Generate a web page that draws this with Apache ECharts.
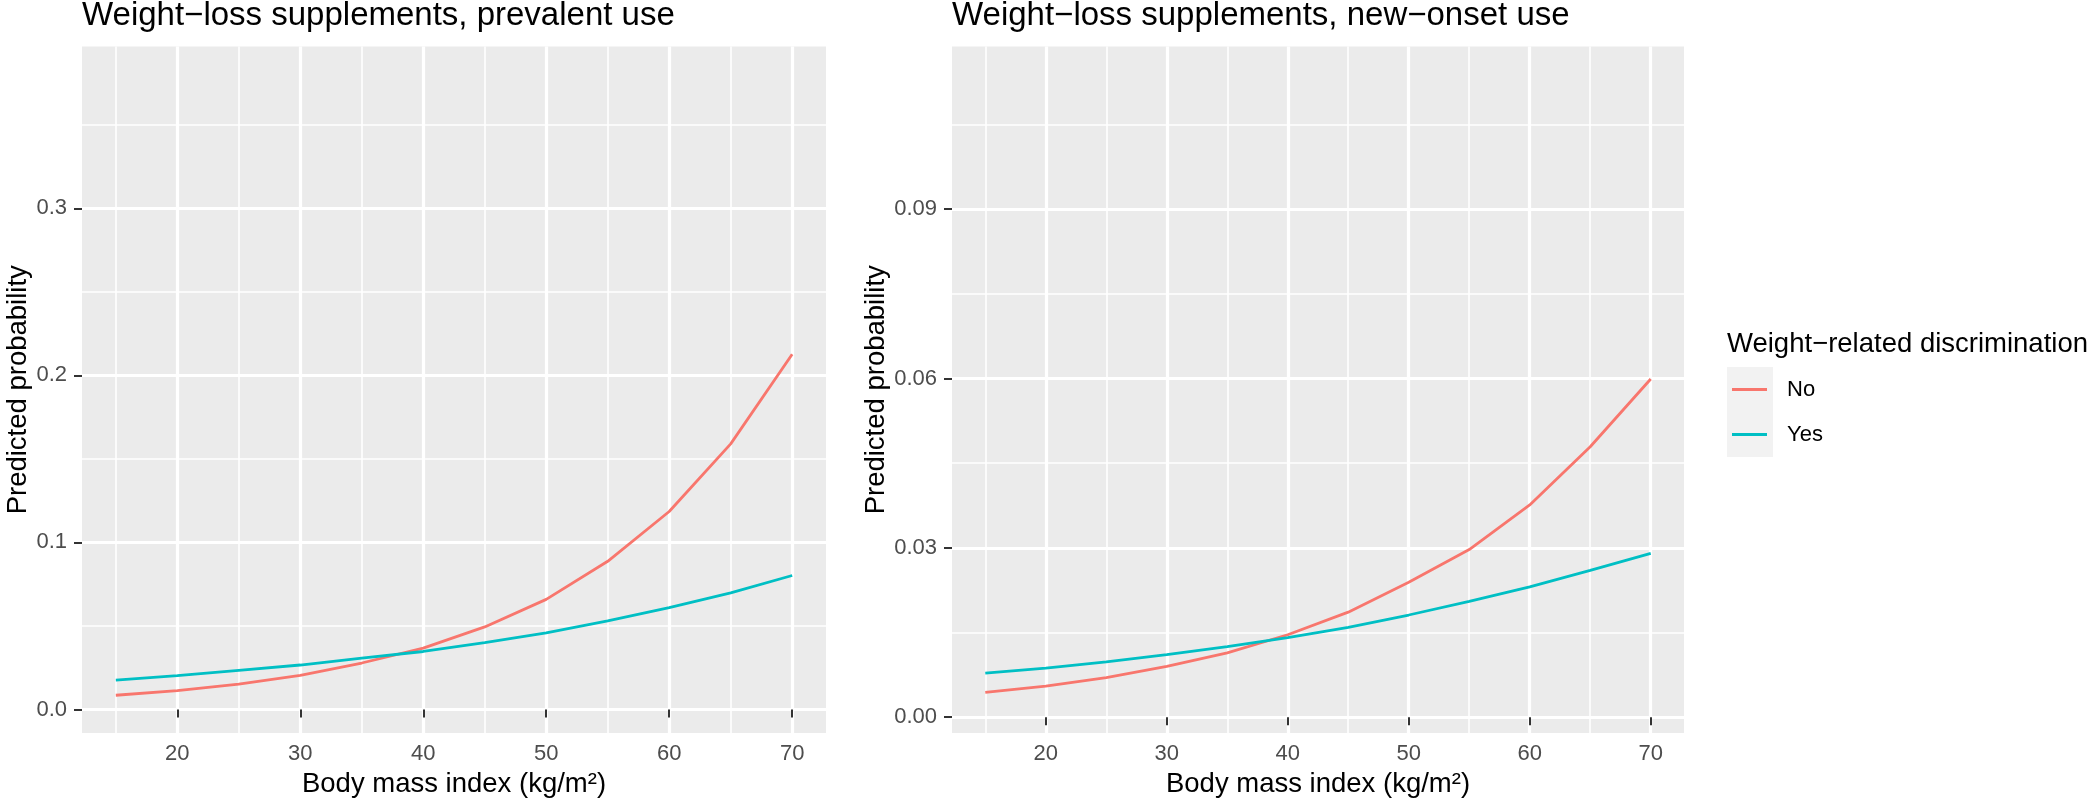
<!DOCTYPE html>
<html>
<head>
<meta charset="utf-8">
<script src="https://cdn.jsdelivr.net/npm/echarts@6/dist/echarts.min.js"></script>
<style>
  html, body { margin: 0; padding: 0; background: #fff; }
  #chart { width: 2100px; height: 803px; }
</style>
</head>
<body>
<div id="chart"></div>
<script>
// BMI grid the predictions were made on
const bmi = [15, 20, 25, 30, 35, 40, 45, 50, 55, 60, 65, 70];

// prevalent use
const prevalentNo  = [0.0085, 0.0113, 0.0151, 0.0204, 0.0278, 0.0367, 0.0494, 0.0659, 0.0887, 0.1185, 0.1590, 0.2127];
const prevalentYes = [0.0175, 0.0202, 0.0234, 0.0266, 0.0307, 0.0347, 0.0400, 0.0458, 0.0530, 0.0609, 0.0698, 0.0802];

// new-onset use
const onsetNo  = [0.0044, 0.0055, 0.0070, 0.0090, 0.0114, 0.0146, 0.0186, 0.0239, 0.0297, 0.0376, 0.0479, 0.0599];
const onsetYes = [0.0078, 0.0087, 0.0098, 0.0111, 0.0125, 0.0141, 0.0159, 0.0181, 0.0205, 0.0231, 0.0260, 0.0290];

const xMajor = [20, 30, 40, 50, 60, 70];
const xMinor = [15, 25, 35, 45, 55, 65];
const yMajorLeft = [0, 0.1, 0.2, 0.3];
const yMinorLeft = [0.05, 0.15, 0.25, 0.35];
const yMajorRight = [0, 0.03, 0.06, 0.09];
const yMinorRight = [0.015, 0.045, 0.075, 0.105];

const FONT = '"Liberation Sans", Arial, sans-serif';
const RED = '#F8766D';
const TEAL = '#00BFC4';

const pairs = (ys) => bmi.map((x, i) => [x, ys[i]]);

const chart = echarts.init(document.getElementById('chart'));

function majorX(grid, name) {
  return {
    type: 'value', gridIndex: grid, position: 'bottom',
    min: 12.25, max: 72.75,
    axisLine: { show: false },
    axisTick: { show: true, length: 8, customValues: xMajor, lineStyle: { color: '#333333', width: 2 } },
    axisLabel: { customValues: xMajor, margin: 10, color: '#4D4D4D', fontSize: 22, fontFamily: FONT },
    splitLine: { show: true, lineStyle: { color: '#ffffff', width: 3.2 } },
    name: name, nameLocation: 'middle', nameGap: 37,
    nameTextStyle: { color: '#000', fontSize: 27.5, fontFamily: FONT }
  };
}
function minorX(grid) {
  return {
    type: 'value', gridIndex: grid, position: 'top',
    min: 12.25, max: 72.75,
    axisLine: { show: false },
    axisTick: { show: false, customValues: xMinor },
    axisLabel: { show: false, customValues: xMinor },
    splitLine: { show: true, lineStyle: { color: '#ffffff', width: 1.6 } }
  };
}
function majorY(grid, min, max, ticks, digits, gap) {
  return {
    type: 'value', gridIndex: grid, position: 'left',
    min: min, max: max,
    axisLine: { show: false },
    axisTick: { show: true, length: 8, customValues: ticks, lineStyle: { color: '#333333', width: 2 } },
    axisLabel: {
      customValues: ticks, margin: 15, color: '#4D4D4D', fontSize: 22, fontFamily: FONT,
      formatter: v => v.toFixed(digits)
    },
    splitLine: { show: true, lineStyle: { color: '#ffffff', width: 3.2 } },
    name: 'Predicted probability', nameLocation: 'middle', nameRotate: 90, nameGap: gap,
    nameTextStyle: { color: '#000', fontSize: 27.5, fontFamily: FONT }
  };
}
function minorY(grid, min, max, ticks) {
  return {
    type: 'value', gridIndex: grid, position: 'right',
    min: min, max: max,
    axisLine: { show: false },
    axisTick: { show: false, customValues: ticks },
    axisLabel: { show: false, customValues: ticks },
    splitLine: { show: true, lineStyle: { color: '#ffffff', width: 1.6 } }
  };
}

function line(name, color, xi, yi, ys) {
  return {
    name: name, type: 'line', xAxisIndex: xi, yAxisIndex: yi,
    data: pairs(ys), showSymbol: false, smooth: false,
    color: color, lineStyle: { color: color, width: 2.8 },
    emphasis: { disabled: true }
  };
}

const option = {
  animation: false,
  backgroundColor: '#ffffff',
  title: [
    { text: 'Weight\u2212loss supplements, prevalent use', left: 82, top: -1, padding: 0,
      textStyle: { fontSize: 33, fontWeight: 'normal', color: '#000', fontFamily: FONT } },
    { text: 'Weight\u2212loss supplements, new\u2212onset use', left: 952, top: -1, padding: 0,
      textStyle: { fontSize: 33, fontWeight: 'normal', color: '#000', fontFamily: FONT } },
    { text: 'Weight\u2212related discrimination', left: 1727, top: 330, padding: 0,
      textStyle: { fontSize: 27.5, fontWeight: 'normal', color: '#000', fontFamily: FONT } }
  ],
  legend: {
    data: ['No', 'Yes'],
    orient: 'vertical', left: 1732, top: 367, padding: 0,
    icon: 'rect', itemWidth: 35, itemHeight: 3, itemGap: 0,
    selectedMode: false,
    textStyle: { fontSize: 22, color: '#000', fontFamily: FONT, lineHeight: 45, padding: [0, 0, 0, 15] }
  },
  graphic: [
    { type: 'rect', left: 1727, top: 367, shape: { width: 46, height: 90 }, style: { fill: '#F2F2F2' }, z: -1 }
  ],
  grid: [
    { left: 82, top: 46.5, width: 744, height: 689.5, show: true, backgroundColor: '#EBEBEB', borderWidth: 0 },
    { left: 952, top: 46.5, width: 732, height: 689.5, show: true, backgroundColor: '#EBEBEB', borderWidth: 0 }
  ],
  xAxis: [
    majorX(0, 'Body mass index (kg/m\u00B2)'),
    minorX(0),
    majorX(1, 'Body mass index (kg/m\u00B2)'),
    minorX(1)
  ],
  yAxis: [
    majorY(0, -0.0141, 0.3969, yMajorLeft, 1, 49),
    minorY(0, -0.0141, 0.3969, yMinorLeft),
    majorY(1, -0.0028, 0.1188, yMajorRight, 2, 62),
    minorY(1, -0.0028, 0.1188, yMinorRight)
  ],
  series: [
    line('No', RED, 0, 0, prevalentNo),
    line('Yes', TEAL, 0, 0, prevalentYes),
    line('No', RED, 2, 2, onsetNo),
    line('Yes', TEAL, 2, 2, onsetYes)
  ]
};

chart.setOption(option);
</script>
</body>
</html>
